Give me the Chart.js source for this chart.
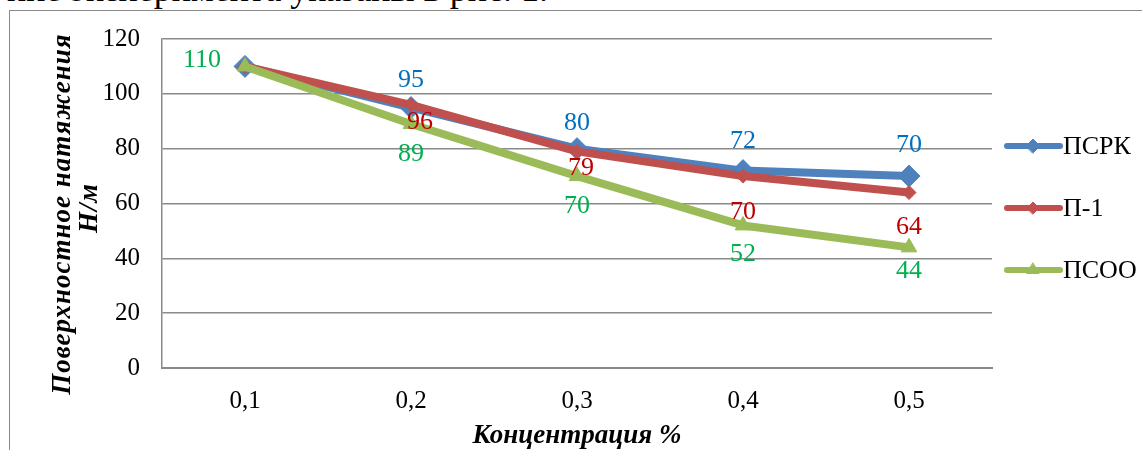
<!DOCTYPE html>
<html lang="ru">
<head>
<meta charset="utf-8">
<title>Поверхностное натяжение</title>
<script src="https://cdn.jsdelivr.net/npm/chart.js@4/dist/chart.umd.min.js"></script>
<style>
  html, body { margin: 0; padding: 0; background: #ffffff; }
  body { width: 1142px; height: 450px; position: relative; overflow: hidden; }
  #caption {
    position: absolute; right: calc(100% - 548px); top: -29px;
    font: 36px "Liberation Serif", "Times New Roman", serif; line-height: 36px;
    white-space: nowrap; color: #000;
  }
  #frame {
    position: absolute; left: 9px; top: 10px; width: 1200px; height: 500px;
    border: 1.5px solid #8a8a8a; box-sizing: border-box;
  }
  #wrap { position: absolute; left: 0; top: 0; width: 1142px; height: 450px; }
</style>
</head>
<body>
<div id="caption">ние эксперимента указаны в рис. 1.</div>
<div id="frame"></div>
<div id="wrap"><canvas id="chart"></canvas></div>
<script>
// Concentration, %
const categories = ['0,1', '0,2', '0,3', '0,4', '0,5'];
// Surface tension, N/m
const psrk = [110, 95, 80, 72, 70];
const p1 = [110, 96, 79, 70, 64];
const psoo = [110, 89, 70, 52, 44];
const seriesNames = ['ПСРК', 'П-1', 'ПСОО'];

const SERIF = '"Liberation Serif", "Times New Roman", serif';

// value-label placement relative to each point: [dx, dy] or null (no label)
const labelShift = {
  psrk: [null, [0, -27], [0, -25], [0, -29], [0, -31]],
  p1:   [null, [9, 17], [4, 17], [0, 36], [0, 35]],
  psoo: [[-43, -6], [0, 30], [0, 30], [0, 29], [0, 24]]
};

const datasets = [
  {
    label: seriesNames[0], data: psrk, order: 2,
    borderColor: '#4F81BD', backgroundColor: '#4F81BD', borderWidth: 8,
    pointStyle: 'rectRot', pointRadius: 11, pointBorderWidth: 1,
    labelColor: '#0070C0', shift: labelShift.psrk,
    legendMarker: { pointStyle: 'rectRot', radius: 7 }
  },
  {
    label: seriesNames[1], data: p1, order: 1,
    borderColor: '#C0504D', backgroundColor: '#C0504D', borderWidth: 8,
    pointStyle: 'rectRot', pointRadius: 7, pointBorderWidth: 1,
    labelColor: '#C00000', shift: labelShift.p1,
    legendMarker: { pointStyle: 'rectRot', radius: 6 }
  },
  {
    label: seriesNames[2], data: psoo, order: 0,
    borderColor: '#9BBB59', backgroundColor: '#9BBB59', borderWidth: 8,
    pointStyle: 'triangle', pointRadius: 9, pointBorderWidth: 1,
    labelColor: '#00B050', shift: labelShift.psoo,
    legendMarker: { pointStyle: 'triangle', radius: 7 }
  }
];

// value labels next to the points
const valueLabels = {
  id: 'valueLabels',
  afterDatasetsDraw(chart) {
    const ctx = chart.ctx;
    ctx.save();
    ctx.font = '26px ' + SERIF;
    ctx.textAlign = 'center';
    ctx.textBaseline = 'middle';
    chart.data.datasets.forEach((ds, i) => {
      const meta = chart.getDatasetMeta(i);
      ctx.fillStyle = ds.labelColor;
      meta.data.forEach((pt, j) => {
        const s = ds.shift[j];
        if (!s) return;
        ctx.fillText(String(ds.data[j]), pt.x + s[0], pt.y + s[1]);
      });
    });
    ctx.restore();
  }
};

// axis titles and the legend on the right
const decorations = {
  id: 'decorations',
  afterDraw(chart) {
    const ctx = chart.ctx;
    const area = chart.chartArea;
    ctx.save();
    ctx.fillStyle = '#000';
    ctx.textAlign = 'center';
    ctx.textBaseline = 'middle';
    ctx.font = 'italic bold 27px ' + SERIF;
    ctx.fillText('Концентрация %', (area.left + area.right) / 2, 436);

    ctx.font = 'italic bold 27px ' + SERIF;
    if ('letterSpacing' in ctx) ctx.letterSpacing = '1px';
    ctx.save();
    ctx.translate(63, 214);
    ctx.rotate(-Math.PI / 2);
    ctx.fillText('Поверхностное натяжения', 0, 0);
    ctx.restore();
    ctx.save();
    ctx.translate(90, 208);
    ctx.rotate(-Math.PI / 2);
    ctx.fillText('Н/м', 0, 0);
    ctx.restore();
    if ('letterSpacing' in ctx) ctx.letterSpacing = '0px';

    // legend
    const ys = [146, 208, 270];
    ctx.font = '26px ' + SERIF;
    ctx.textAlign = 'left';
    chart.data.datasets.forEach((ds, i) => {
      const y = ys[i];
      ctx.strokeStyle = ds.borderColor;
      ctx.lineWidth = 6;
      ctx.lineCap = 'round';
      ctx.beginPath();
      ctx.moveTo(1007, y);
      ctx.lineTo(1060, y);
      ctx.stroke();
      ctx.fillStyle = ds.backgroundColor;
      ctx.strokeStyle = ds.borderColor;
      ctx.lineWidth = 1;
      Chart.helpers.drawPoint(ctx, {
        pointStyle: ds.legendMarker.pointStyle,
        radius: ds.legendMarker.radius,
        rotation: 0, borderWidth: 1
      }, 1033, y);
      ctx.fillStyle = '#000';
      ctx.fillText(ds.label, 1063, y + 1);
    });
    ctx.restore();
  }
};

new Chart(document.getElementById('chart'), {
  type: 'line',
  data: { labels: categories, datasets },
  plugins: [valueLabels, decorations],
  options: {
    responsive: true,
    maintainAspectRatio: false,
    animation: false,
    layout: { padding: { left: 0, top: 39, right: 150, bottom: 0 } },
    plugins: { legend: { display: false }, tooltip: { enabled: false } },
    elements: { line: { tension: 0, borderJoinStyle: 'round', borderCapStyle: 'round' } },
    scales: {
      x: {
        offset: true,
        grid: { display: false, drawTicks: false },
        border: { display: true, color: '#8a8a8a', width: 2 },
        ticks: { color: '#000', font: { family: SERIF, size: 25 }, padding: 18 },
        afterFit(scale) { scale.height = 82; }
      },
      y: {
        min: 0, max: 120,
        grid: { color: '#8a8a8a', lineWidth: 1.5, drawTicks: false },
        border: { display: true, color: '#8a8a8a', width: 1.5 },
        ticks: { stepSize: 20, color: '#000', font: { family: SERIF, size: 25 }, padding: 22 },
        afterFit(scale) { scale.width = 162; }
      }
    }
  }
});
</script>
</body>
</html>
